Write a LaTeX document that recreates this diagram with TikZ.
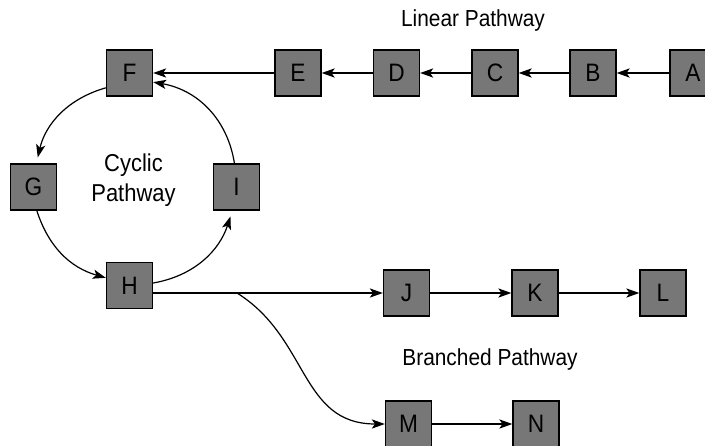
\documentclass[tikz,border=0pt]{standalone}
\usepackage{fontspec}
\setmainfont[FakeStretch=0.9]{Liberation Sans}
\usepackage{tikz}
\usetikzlibrary{arrows.meta}
\definecolor{boxgray}{HTML}{777777}

\begin{document}
\begin{tikzpicture}[x=0.5pt,y=-0.5pt,
  box/.style={draw,line width=0.7pt,fill=boxgray,minimum size=23pt,inner sep=0pt,font=\fontsize{12.6}{14}\selectfont},
  lbl/.style={font=\fontsize{11.6}{13}\selectfont,inner sep=0pt},
  flow/.style={line width=0.6pt,-{Stealth[length=6.5pt,width=4.6pt,inset=1.6pt]}}]
  \useasboundingbox (0,0) rectangle (705,445);
  % linear pathway
  \node[box] (A) at (693,73) {A};
  \node[box] (B) at (593,73) {B};
  \node[box] (C) at (495,73) {C};
  \node[box] (D) at (396.5,73) {D};
  \node[box] (E) at (298,73) {E};
  \node[box] (F) at (129.5,73) {F};
  \node[lbl,anchor=base] (linlbl) at (473,26.7) {Linear Pathway};
  \draw[flow] (A) -- (B);
  \draw[flow] (B) -- (C);
  \draw[flow] (C) -- (D);
  \draw[flow] (D) -- (E);
  \draw[flow] (E) -- (F);
  % cyclic pathway
  \node[box] (G) at (33.5,187) {G};
  \node[box] (I) at (236.5,187) {I};
  \node[box] (H) at (129.5,285.5) {H};
  \node[lbl,align=center,font=\fontsize{12.2}{15}\selectfont] (cyclbl) at (133.5,180) {Cyclic\\Pathway};
  \draw[flow,shorten >=3pt] (F.212) to[out=196,in=77] (G.83);
  \draw[flow] (G.-82) to[out=288,in=164] (H.162);
  \draw[flow,shorten >=3pt] (H.6) to[out=10,in=252] (I.-100);
  \draw[flow] (I.95) to[out=99,in=350] (F.-21);
  % branched pathway
  \node[box] (J) at (406.5,293) {J};
  \node[box] (K) at (535,293) {K};
  \node[box] (L) at (663,293) {L};
  \node[box] (M) at (408.5,424) {M};
  \node[box] (N) at (536,424) {N};
  \node[lbl,anchor=base] (brlbl) at (490,365) {Branched Pathway};
  \coordinate (split) at (237,293);
  \draw[flow] (H.east |- J.west) -- (J);
  \draw[flow] (J) -- (K);
  \draw[flow] (K) -- (L);
  \draw[flow] (split) to[out=-32,in=180,looseness=1.1] (M);
  \draw[flow] (M) -- (N);
\end{tikzpicture}
\end{document}
